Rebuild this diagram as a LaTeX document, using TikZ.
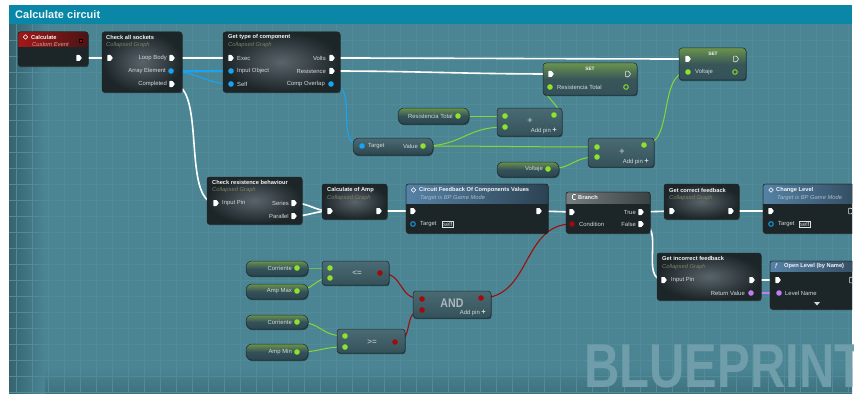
\documentclass[tikz,border=0pt]{standalone}
\usepackage{fontspec}
\setmainfont{Liberation Sans}
\usetikzlibrary{fit,shadows,calc}
\definecolor{bg}{HTML}{4B8594}
\definecolor{bgdark}{HTML}{36636F}
\definecolor{gridc}{HTML}{518B9A}
\definecolor{titlebar}{HTML}{0A86A6}
\definecolor{nodebody}{HTML}{1C2528}
\definecolor{glow}{HTML}{59646A}
\definecolor{purebody}{HTML}{34515A}
\definecolor{puretop}{HTML}{4A6B73}
\definecolor{pureedge}{HTML}{1B2A2E}
\definecolor{pinblue}{HTML}{1AA3F0}
\definecolor{pingreen}{HTML}{8FE22C}
\definecolor{pinred}{HTML}{A00C0C}
\definecolor{pinpurple}{HTML}{C27EF0}
\definecolor{wiregreen}{HTML}{8AD630}
\definecolor{labelc}{HTML}{D4D9DA}
\definecolor{subc}{HTML}{7E7F62}
\definecolor{subblue}{HTML}{A9BCCB}
\definecolor{subpink}{HTML}{D9A0A0}
\definecolor{hdrblueL}{HTML}{5582A6}
\definecolor{hdrblueR}{HTML}{2C4252}
\definecolor{hdrredL}{HTML}{A31818}
\definecolor{hdrredR}{HTML}{4A1414}
\definecolor{hdrgrayL}{HTML}{767E80}
\definecolor{hdrgrayR}{HTML}{3A4244}
\definecolor{getglow}{HTML}{6A934C}
\pgfdeclarelayer{bglayer}
\pgfdeclarelayer{wirelayer}
\pgfsetlayers{bglayer,wirelayer,main}
\newcommand\bpX[2]{\coordinate (#1) at (#2); \pic at (#1) {xpin};}
\newcommand\bpXh[2]{\coordinate (#1) at (#2); \pic at (#1) {xpinh};}
\newcommand\bpD[3]{\coordinate (#2) at (#3); \pic at (#2) {dpin=#1};}
\newcommand\bpDh[3]{\coordinate (#2) at (#3); \pic at (#2) {dpinh=#1};}
\newcommand\bphdr[6]{%
 \begin{scope}
 \clip[rounded corners=2.5pt] (#1,#2) rectangle (#3,#4);
 \fill[#6] (#1,#2) rectangle (#3,#5);
 \end{scope}
 \draw[black!85, line width=0.5pt, rounded corners=2.5pt] (#1,#2) rectangle (#3,#4);}
\newcommand\bpicon[1]{\draw[white, line width=0.5pt] ($(#1)+(0,-2.2)$) -- ($(#1)+(2.2,0)$) -- ($(#1)+(0,2.2)$) -- ($(#1)+(-2.2,0)$) -- cycle;}
\tikzset{
  shd/.style={drop shadow={shadow xshift=0.6pt,shadow yshift=-1.2pt,opacity=0.45,fill=black}},
  cbox/.style={rounded corners=2.5pt, draw=black!85, line width=0.5pt, fill=nodebody, inner sep=0pt, shd},
  gbox/.style={cbox, inner color=glow, outer color=nodebody},
  pbox/.style={rounded corners=3pt, draw=pureedge, line width=0.5pt, top color=puretop, bottom color=purebody, inner sep=0pt, shd},
  getbox/.style={rounded corners=6pt, draw=pureedge, line width=0.5pt, top color=getglow, bottom color=purebody!85!black, middle color=purebody, inner sep=0pt, shd},
  setbox/.style={rounded corners=3pt, draw=pureedge, line width=0.5pt, top color=getglow, bottom color=purebody, middle color=purebody!92!getglow, inner sep=0pt, shd},
  ttl/.style={font=\fontsize{5.7}{6}\selectfont\bfseries, text=white!92!gray, anchor=west, inner sep=0pt},
  sub/.style={font=\fontsize{5.8}{6}\selectfont\itshape, text=subc, anchor=west, inner sep=0pt},
  lbl/.style={font=\fontsize{5.9}{6}\selectfont, text=labelc, inner sep=0pt},
  lblw/.style={lbl, anchor=west},
  lble/.style={lbl, anchor=east},
  bigop/.style={font=\fontsize{9}{9}\selectfont\bfseries, text=labelc!75!purebody, inner sep=0pt},
  selfbox/.style={lbl, anchor=west, draw=labelc!80, line width=0.4pt, inner sep=0.9pt},
  wx/.style={draw=white, line width=1.6pt},
  wg/.style={draw=wiregreen, line width=1pt},
  wb/.style={draw=pinblue, line width=1.1pt},
  wr/.style={draw=pinred, line width=1.1pt},
  wp/.style={draw=pinpurple, line width=1.1pt},
  xpin/.pic={\fill[white, rounded corners=0.4pt] (-2.6,-3) -- (0.6,-3) -- (2.8,0) -- (0.6,3) -- (-2.6,3) -- cycle;},
  xpinh/.pic={\draw[white!85!gray, line width=0.6pt, rounded corners=0.4pt] (-2.4,-2.8) -- (0.5,-2.8) -- (2.6,0) -- (0.5,2.8) -- (-2.4,2.8) -- cycle;},
  dpin/.pic={\fill[#1] (0,0) circle[radius=2.8pt];},
  dpinh/.pic={\draw[#1, line width=0.9pt] (0,0) circle[radius=2.3pt];},
}
\newcommand\addpin[3]{\node[lble] (#3) at (#1,#2) {Add pin\hspace{1.6pt}{\fontsize{7.5}{7}\selectfont\bfseries +}};}
\begin{document}
\begin{tikzpicture}[x=1pt,y=-1pt]
\useasboundingbox (0,0) rectangle (854,396);
\begin{pgfonlayer}{bglayer}
\fill[white] (0,0) rectangle (854,396);
\fill[bg] (9,5) rectangle (852,393);
\shade[left color=bgdark, right color=bg] (9,24) rectangle (45,393);
\shade[top color=bg, bottom color=bgdark!60!bg] (45,368) rectangle (852,393);
\foreach \x in {16,32,...,848} \draw[gridc, line width=0.35pt] (\x,24) -- (\x,393);
\foreach \y in {40,56,...,392} \draw[gridc, line width=0.35pt] (9,\y) -- (852,\y);
\fill[titlebar] (9,5) rectangle (852,24);
\node[anchor=west, inner sep=0pt, font=\fontsize{11}{12}\selectfont\bfseries, text=white!93!titlebar] (title) at (15,14.5) {Calculate circuit};
\node[anchor=base west, inner sep=0pt, font=\fontsize{62}{62}\selectfont\bfseries, text=bg!80!white, xscale=0.79] (wm) at (584,387) {BLUEPRINT};
\end{pgfonlayer}

\begin{scope}
\clip (9,5) rectangle (852,393);
% Calculate event
\node[cbox, fit={(18,32) (88,66)}] (calc) {};
\bphdr{18}{32}{88}{66}{47}{left color=hdrredL, right color=hdrredR}
\coordinate (calc-ic) at (25.5,37);
\bpicon{calc-ic}
\node[ttl] (calc-t) at (31,37) {Calculate};
\node[sub, text=subpink] (calc-s) at (32,44.5) {Custom Event};
\node[fill=red!80!black, draw=black, line width=0.4pt, minimum size=3pt, inner sep=0pt] (calc-sq) at (81,41) {};
\bpX{calc-out}{79,58}

% Check all sockets
\node[gbox, fit={(102,32) (182,92)}] (check) {};
\node[ttl] (check-t) at (106,37) {Check all sockets};
\node[sub] (check-s) at (106,45) {Collapsed Graph};
\node[lble] (check-l1) at (167,58) {Loop Body};
\node[lble] (check-l2) at (166,71) {Array Element};
\node[lble] (check-l3) at (167,84) {Completed};
\bpX{check-in}{110,58}
\bpX{check-loop}{172,58}
\bpD{pinblue}{check-arr}{171,71}
\bpX{check-comp}{172,84}

% Get type of component
\node[gbox, fit={(223,32) (340,92)}] (gtype) {};
\node[ttl] (gt-t) at (228,37) {Get type of component};
\node[sub] (gt-s) at (228,45) {Collapsed Graph};
\node[lblw] (gt-l1) at (237,58) {Exec};
\node[lblw] (gt-l2) at (237,71) {Input Object};
\node[lblw] (gt-l3) at (237,84) {Self};
\node[lble] (gt-l4) at (326,58) {Volts};
\node[lble] (gt-l5) at (326,71) {Resistence};
\node[lble] (gt-l6) at (325,84) {Comp Overlap};
\bpX{gt-in}{231,58}
\bpD{pinblue}{gt-obj}{231,71}
\bpD{pinblue}{gt-self}{231,84}
\bpX{gt-volts}{332,58}
\bpX{gt-res}{332,71}
\bpD{pinblue}{gt-ovl}{331,84}

% SET Resistencia Total
\node[setbox, fit={(543,63) (637,95)}] (setR) {};
\node[ttl, anchor=center, font=\fontsize{4.8}{5}\selectfont\bfseries] (setR-t) at (590,68.5) {SET};
\node[lblw] (setR-l) at (557,87) {Resistencia Total};
\bpX{setR-in}{551,74}
\bpXh{setR-out}{628,74}
\bpD{pingreen}{setR-val}{550,87}
\bpDh{pingreen}{setR-vo}{626,87}

% SET Voltaje
\node[setbox, fit={(679,48) (746,80)}] (setV) {};
\node[ttl, anchor=center, font=\fontsize{4.8}{5}\selectfont\bfseries] (setV-t) at (713,53.5) {SET};
\node[lblw] (setV-l) at (695,72) {Voltaje};
\bpX{setV-in}{688,59}
\bpXh{setV-out}{736,59}
\bpD{pingreen}{setV-val}{688,72}
\bpDh{pingreen}{setV-vo}{735,72}

% getter Resistencia Total
\node[getbox, fit={(398,108) (469,124)}] (getRT) {};
\node[lble] (getRT-l) at (453,116) {Resistencia Total};
\bpD{pingreen}{getRT-p}{458,116}

% add 1
\node[pbox, fit={(497,108) (562,136)}] (add1) {};
\node[bigop] (add1-op) at (530,121) {+};
\addpin{557}{130.5}{add1-ap}
\bpD{pingreen}{add1-a}{505,116}
\bpD{pingreen}{add1-b}{505,127}
\bpD{pingreen}{add1-o}{554,115}

% Target / Value
\node[getbox, top color=puretop, fit={(353,138) (433,155)}] (tgt) {};
\node[lblw] (tgt-l1) at (368,146) {Target};
\node[lble] (tgt-l2) at (418,146) {Value};
\bpD{pinblue}{tgt-t}{362,146}
\bpD{pingreen}{tgt-v}{423,146}

% add 2
\node[pbox, fit={(588,138) (654,167)}] (add2) {};
\node[bigop] (add2-op) at (622,152) {+};
\addpin{649}{161.5}{add2-ap}
\bpD{pingreen}{add2-a}{597,147}
\bpD{pingreen}{add2-b}{597,157}
\bpD{pingreen}{add2-o}{644,145}

% getter Voltaje
\node[getbox, fit={(497,162) (559,177)}] (getV) {};
\node[lble] (getV-l) at (543,169) {Voltaje};
\bpD{pingreen}{getV-p}{548,169}

% Check resistence behaviour
\node[gbox, fit={(207,177) (302,224)}] (crb) {};
\node[ttl] (crb-t) at (212,182) {Check resistence behaviour};
\node[sub] (crb-s) at (212,190) {Collapsed Graph};
\node[lblw] (crb-l1) at (222,203) {Input Pin};
\node[lble] (crb-l2) at (289,203) {Series};
\node[lble] (crb-l3) at (289,216) {Parallel};
\bpX{crb-in}{216,203}
\bpX{crb-ser}{294,203}
\bpX{crb-par}{294,216}

% Calculate of Amp
\node[gbox, fit={(322,184) (387,219)}] (camp) {};
\node[ttl] (camp-t) at (327,190) {Calculate of Amp};
\node[sub] (camp-s) at (327,198) {Collapsed Graph};
\bpX{camp-in}{330,211}
\bpX{camp-out}{379,211}

% Circuit Feedback
\node[cbox, fit={(406,184) (548,233)}] (cfb) {};
\bphdr{406}{184}{548}{233}{203}{left color=hdrblueL, right color=hdrblueR}
\coordinate (cfb-ic) at (413.5,190);
\bpicon{cfb-ic}
\node[ttl] (cfb-t) at (419,190) {Circuit Feedback Of Components Values};
\node[sub, text=subblue] (cfb-s) at (420,198) {Target is BP Game Mode};
\node[lblw] (cfb-l) at (420,224) {Target};
\node[selfbox] (cfb-self) at (442,224.5) {self};
\bpX{cfb-in}{413,211}
\bpX{cfb-out}{539,211}
\bpDh{pinblue}{cfb-tg}{413,224}

% Branch
\node[cbox, fit={(566,192) (650,233)}] (br) {};
\bphdr{566}{192}{650}{233}{203}{left color=hdrgrayL, right color=hdrgrayR}
\draw[white, line width=0.6pt, rounded corners=1pt] (575.5,194.5) -- (572.5,194.5) -- (572.5,199.5) -- (575.5,199.5);
\node[ttl] (br-t) at (578,197.5) {Branch};
\node[lblw] (br-l1) at (579,224) {Condition};
\node[lble] (br-l2) at (636,212) {True};
\node[lble] (br-l3) at (636,224) {False};
\bpX{br-in}{572,212}
\bpD{pinred}{br-cond}{572,224}
\bpX{br-true}{641,212}
\bpX{br-false}{641,224}

% Get correct feedback
\node[gbox, fit={(664,184) (739,219)}] (gcf) {};
\node[ttl] (gcf-t) at (669,190) {Get correct feedback};
\node[sub] (gcf-s) at (669,198) {Collapsed Graph};
\bpX{gcf-in}{672,211}
\bpX{gcf-out}{731,211}

% Change Level
\node[cbox, fit={(763,184) (875,233)}] (cl) {};
\bphdr{763}{184}{875}{233}{203}{left color=hdrblueL, right color=hdrblueR}
\coordinate (cl-ic) at (771,190);
\bpicon{cl-ic}
\node[ttl] (cl-t) at (776,190) {Change Level};
\node[sub, text=subblue] (cl-s) at (777,198) {Target is BP Game Mode};
\node[lblw] (cl-l) at (778,224) {Target};
\node[selfbox] (cl-self) at (799,224.5) {self};
\bpX{cl-in}{771,211}
\bpXh{cl-out}{851,211}
\bpDh{pinblue}{cl-tg}{771,224}

% Get incorrect feedback
\node[gbox, fit={(657,253) (761,300)}] (gif) {};
\node[ttl] (gif-t) at (662,258) {Get incorrect feedback};
\node[sub] (gif-s) at (662,267) {Collapsed Graph};
\node[lblw] (gif-l1) at (671,280) {Input Pin};
\node[lble] (gif-l2) at (745,293) {Return Value};
\bpX{gif-in}{664,280}
\bpX{gif-out}{752,280}
\bpD{pinpurple}{gif-ret}{751,293}

% Open Level
\node[cbox, fit={(770,261) (875,309)}] (ol) {};
\bphdr{770}{261}{875}{309}{271}{left color=hdrblueL, right color=hdrblueR}
\node[ttl, font=\fontsize{7}{7}\selectfont\itshape] (ol-ic) at (775,266) {f};
\node[ttl] (ol-t) at (784,266) {Open Level (by Name)};
\node[lblw] (ol-l) at (785,293) {Level Name};
\fill[labelc] (814,302) -- (820,302) -- (817,305.5) -- cycle;
\bpX{ol-in}{778,280}
\bpXh{ol-out}{852,280}
\bpD{pinpurple}{ol-ln}{779,293}

% getters for comparisons
\node[getbox, fit={(246,261) (308,276)}] (cor1) {};
\node[lble] (cor1-l) at (292,268) {Corriente};
\bpD{pingreen}{cor1-p}{297,268}
\node[getbox, fit={(246,284) (308,299)}] (amax) {};
\node[lble] (amax-l) at (292,291) {Amp Max};
\bpD{pingreen}{amax-p}{297,291}
\node[getbox, fit={(246,315) (308,329)}] (cor2) {};
\node[lble] (cor2-l) at (292,322) {Corriente};
\bpD{pingreen}{cor2-p}{297,322}
\node[getbox, fit={(246,344) (308,360)}] (amin) {};
\node[lble] (amin-l) at (292,352) {Amp Min};
\bpD{pingreen}{amin-p}{297,352}

% <=
\node[pbox, fit={(322,261) (389,285)}] (le) {};
\node[bigop, font=\fontsize{8}{8}\selectfont\bfseries] (le-op) at (357,273) {<=};
\bpD{pingreen}{le-a}{330,268}
\bpD{pingreen}{le-b}{330,278}
\bpD{pinred}{le-o}{380,273}

% >=
\node[pbox, fit={(337,329) (405,353)}] (ge) {};
\node[bigop, font=\fontsize{8}{8}\selectfont\bfseries] (ge-op) at (372,342) {>=};
\bpD{pingreen}{ge-a}{345,336}
\bpD{pingreen}{ge-b}{345,347}
\bpD{pinred}{ge-o}{395,342}

% AND
\node[pbox, fit={(413,291) (491,318)}] (and) {};
\node[bigop, font=\fontsize{12.5}{12}\selectfont\bfseries, xscale=0.85] (and-op) at (452,303.5) {AND};
\addpin{486}{313}{and-ap}
\bpD{pinred}{and-a}{422,299}
\bpD{pinred}{and-b}{422,310}
\bpD{pinred}{and-o}{481,298}
\end{scope}

\begin{pgfonlayer}{wirelayer}
\draw[wx] (calc-out) -- (check-in);
\draw[wx] (check-loop) -- (gt-in);
\draw[wx] (gt-volts) .. controls +(80,0) and +(-80,0) .. (setV-in);
\draw[wx] (gt-res) .. controls +(80,0) and +(-80,0) .. (setR-in);
\draw[wx] (check-comp) .. controls +(35,0) and +(-35,0) .. (crb-in);
\draw[wx] (crb-ser) .. controls +(15,0) and +(-15,0) .. (camp-in);
\draw[wx] (crb-par) .. controls +(15,0) and +(-15,0) .. (camp-in);
\draw[wx] (camp-out) -- (cfb-in);
\draw[wx] (cfb-out) -- (br-in);
\draw[wx] (br-true) -- (gcf-in);
\draw[wx] (gcf-out) -- (cl-in);
\draw[wx] (br-false) .. controls +(25,0) and +(-25,0) .. (gif-in);
\draw[wx] (gif-out) -- (ol-in);
\draw[wb] (check-arr) -- (gt-obj);
\draw[wb] (check-arr) .. controls +(25,0) and +(-25,0) .. (gt-self);
\draw[wb] (gt-ovl) .. controls +(30,0) and +(-30,0) .. (tgt-t);
\draw[wg] (getRT-p) -- (add1-a);
\draw[wg] (tgt-v) .. controls +(40,0) and +(-40,0) .. (add1-b);
\draw[wg] (tgt-v) .. controls +(60,0) and +(-60,0) .. (add2-a);
\draw[wg] (getV-p) .. controls +(25,0) and +(-25,0) .. (add2-b);
\draw[wg] (add1-o) .. controls +(20,0) and +(-20,0) .. (setR-val);
\draw[wg] (add2-o) .. controls +(30,0) and +(-30,0) .. (setV-val);
\draw[wg] (cor1-p) .. controls +(15,0) and +(-15,0) .. (le-a);
\draw[wg] (amax-p) .. controls +(15,0) and +(-15,0) .. (le-b);
\draw[wg] (cor2-p) .. controls +(25,0) and +(-25,0) .. (ge-a);
\draw[wg] (amin-p) .. controls +(25,0) and +(-25,0) .. (ge-b);
\draw[wr] (le-o) .. controls +(25,0) and +(-25,0) .. (and-a);
\draw[wr] (ge-o) .. controls +(20,0) and +(-20,0) .. (and-b);
\draw[wr] (and-o) .. controls +(50,0) and +(-50,0) .. (br-cond);
\draw[wp] (gif-ret) -- (ol-ln);
\end{pgfonlayer}
\end{tikzpicture}
\end{document}
